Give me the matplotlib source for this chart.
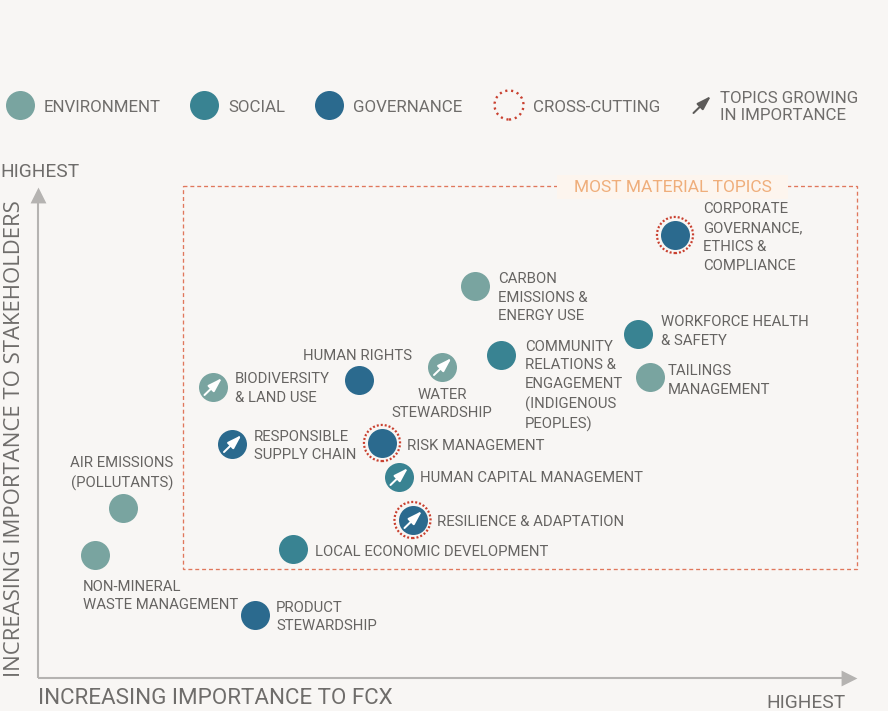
import matplotlib
matplotlib.use("Agg")
import matplotlib.pyplot as plt
from matplotlib.patches import Rectangle

BG = "#f8f6f4"
ENV, SOC, GOV = "#79a4a0", "#398392", "#2b6a8e"
RED = "#c9402f"
TXT = "#666462"
SOFT = "#6f6d6b"
COLORS = {"E": ENV, "S": SOC, "G": GOV}

# Topic table, in the picture's pixel scale
topics = ["Corporate", "Carbon", "Workforce", "Community", "Tailings", "Water", "Human rights",
          "Biodiversity", "Responsible", "Risk", "Human capital", "Resilience", "Local",
          "Air", "Waste", "Product"]
fcx_importance = [675, 475, 637.5, 500.5, 649.5, 442, 358.5, 212.5, 232, 382, 398.5, 412.5, 293, 122.5, 95, 254.5]
stakeholder_importance = [235, 286, 333.5, 355, 377, 367, 380, 387, 444, 443, 477, 520, 549, 507.5, 555, 615]
pillars = ["G", "E", "S", "S", "E", "E", "G", "E", "G", "G", "S", "G", "S", "E", "E", "G"]
growing = [0, 0, 0, 0, 0, 1, 0, 1, 1, 0, 1, 1, 0, 0, 0, 0]
cross_cutting = [1, 0, 0, 0, 0, 0, 0, 0, 0, 1, 0, 1, 0, 0, 0, 0]

labels = ["CORPORATE\nGOVERNANCE,\nETHICS &\nCOMPLIANCE", "CARBON\nEMISSIONS &\nENERGY USE",
          "WORKFORCE HEALTH\n& SAFETY", "COMMUNITY\nRELATIONS &\nENGAGEMENT\n(INDIGENOUS\nPEOPLES)",
          "TAILINGS\nMANAGEMENT", "WATER\nSTEWARDSHIP", "HUMAN RIGHTS", "BIODIVERSITY\n& LAND USE",
          "RESPONSIBLE\nSUPPLY CHAIN", "RISK MANAGEMENT", "HUMAN CAPITAL MANAGEMENT",
          "RESILIENCE & ADAPTATION", "LOCAL ECONOMIC DEVELOPMENT", "AIR EMISSIONS\n(POLLUTANTS)",
          "NON-MINERAL\nWASTE MANAGEMENT", "PRODUCT\nSTEWARDSHIP"]
label_x = [703, 498, 661, 525, 668, 442, 357, 235, 254, 407, 420, 437, 315, 122, 83, 276]
label_y = [237.5, 297.5, 331.5, 386, 380.5, 404, 356.5, 388.5, 446, 445.5, 478.5, 522.5, 551.5, 473.5, 596, 617]
label_ha = ["left", "left", "left", "left", "left", "center", "center", "left", "left", "left",
            "left", "left", "left", "center", "left", "left"]

legend_names = ["ENVIRONMENT", "SOCIAL", "GOVERNANCE"]
legend_x = [20, 204, 329]
legend_text_x = [44, 228, 353]

fig = plt.figure(figsize=(8.88, 7.11), dpi=100, facecolor=BG)
ax = fig.add_axes([0, 0, 1, 1])
ax.set_xlim(0, 888)
ax.set_ylim(711, 0)
ax.axis("off")

plt.rcParams["font.family"] = ["Roboto", "DejaVu Sans"]
S = 436  # 29 px circle

# Axes arrows
ax.plot([38, 38], [200, 677.5], color="#b5b3b1", lw=1.5, zorder=1, solid_capstyle="butt")
ax.plot([38, 845], [677.5, 677.5], color="#b5b3b1", lw=1.5, zorder=1, solid_capstyle="butt")
ax.scatter([38], [195], marker="^", s=130, color="#b5b3b1", linewidths=0, zorder=1)
ax.scatter([849], [677.5], marker=">", s=130, color="#b5b3b1", linewidths=0, zorder=1)

# Material box
ax.add_patch(Rectangle((183, 186), 674, 383, fill=False, ec="#e0775c", lw=0.95,
                       ls=(0, (3, 2.2)), zorder=1))
ax.add_patch(Rectangle((557, 175), 231, 24, fc="#fdf5ee", ec="none", zorder=2))
ax.text(672.5, 187, "MOST MATERIAL TOPICS", color="#efae7b", fontsize=12.5, ha="center",
        va="center", zorder=3)

def arrow(x, y, color, scale=1.0):
    ax.annotate("", xy=(x + 9.5 * scale, y - 9 * scale), xytext=(x - 8 * scale, y + 8 * scale),
                arrowprops=dict(arrowstyle="-|>,head_length=0.85,head_width=0.27", lw=1.45,
                                color=color, shrinkA=0, shrinkB=0, mutation_scale=10),
                zorder=6)

# Topics
for x, y, p, g, c in zip(fcx_importance, stakeholder_importance, pillars, growing, cross_cutting):
    ax.scatter([x], [y], s=S, color=COLORS[p], linewidths=0, zorder=4)
    if c:
        ax.scatter([x], [y], s=S * 1.55, facecolors="none", edgecolors=RED, linewidths=1.6,
                   linestyles=[(0, (0.9, 0.9))], zorder=3)
    if g:
        arrow(x, y, "white")

for t, x, y, ha in zip(labels, label_x, label_y, label_ha):
    ax.text(x, y, t, color=TXT, fontsize=10.75, ha=ha, va="center", linespacing=1.44,
            multialignment="center" if ha == "center" else "left", zorder=5)

# Legend
for n, x, tx, c in zip(legend_names, legend_x, legend_text_x, [ENV, SOC, GOV]):
    ax.scatter([x], [105], s=S, color=c, linewidths=0, zorder=4)
    ax.text(tx, 107, n, color=SOFT, fontsize=12.2, va="center", ha="left")

ax.scatter([509], [105], s=S, facecolors="none", edgecolors=RED, linewidths=1.7,
           linestyles=[(0, (0.9, 1.6))], zorder=4)
ax.text(533, 107, "CROSS-CUTTING", color=SOFT, fontsize=12.2, va="center", ha="left")
arrow(701.5, 105, "#5d5b59", 1.0)
ax.text(720, 107, "TOPICS GROWING\nIN IMPORTANCE", color=SOFT, fontsize=12.2, va="center",
        ha="left", linespacing=1.2)

# Axis titles
ax.text(0.5, 172, "HIGHEST", color=SOFT, fontsize=13.8, va="center", ha="left")
ax.text(14.5, 439, "INCREASING IMPORTANCE TO STAKEHOLDERS", color=SOFT, fontsize=15.9,
        family=["Open Sans", "DejaVu Sans"], rotation=90, va="center", ha="center")
ax.text(38, 699, "INCREASING IMPORTANCE TO FCX", color=SOFT, fontsize=16.1, va="center", ha="left")
ax.text(766.5, 703, "HIGHEST", color=SOFT, fontsize=13.8, va="center", ha="left")

fig.savefig("out.png", dpi=100, facecolor=BG)
